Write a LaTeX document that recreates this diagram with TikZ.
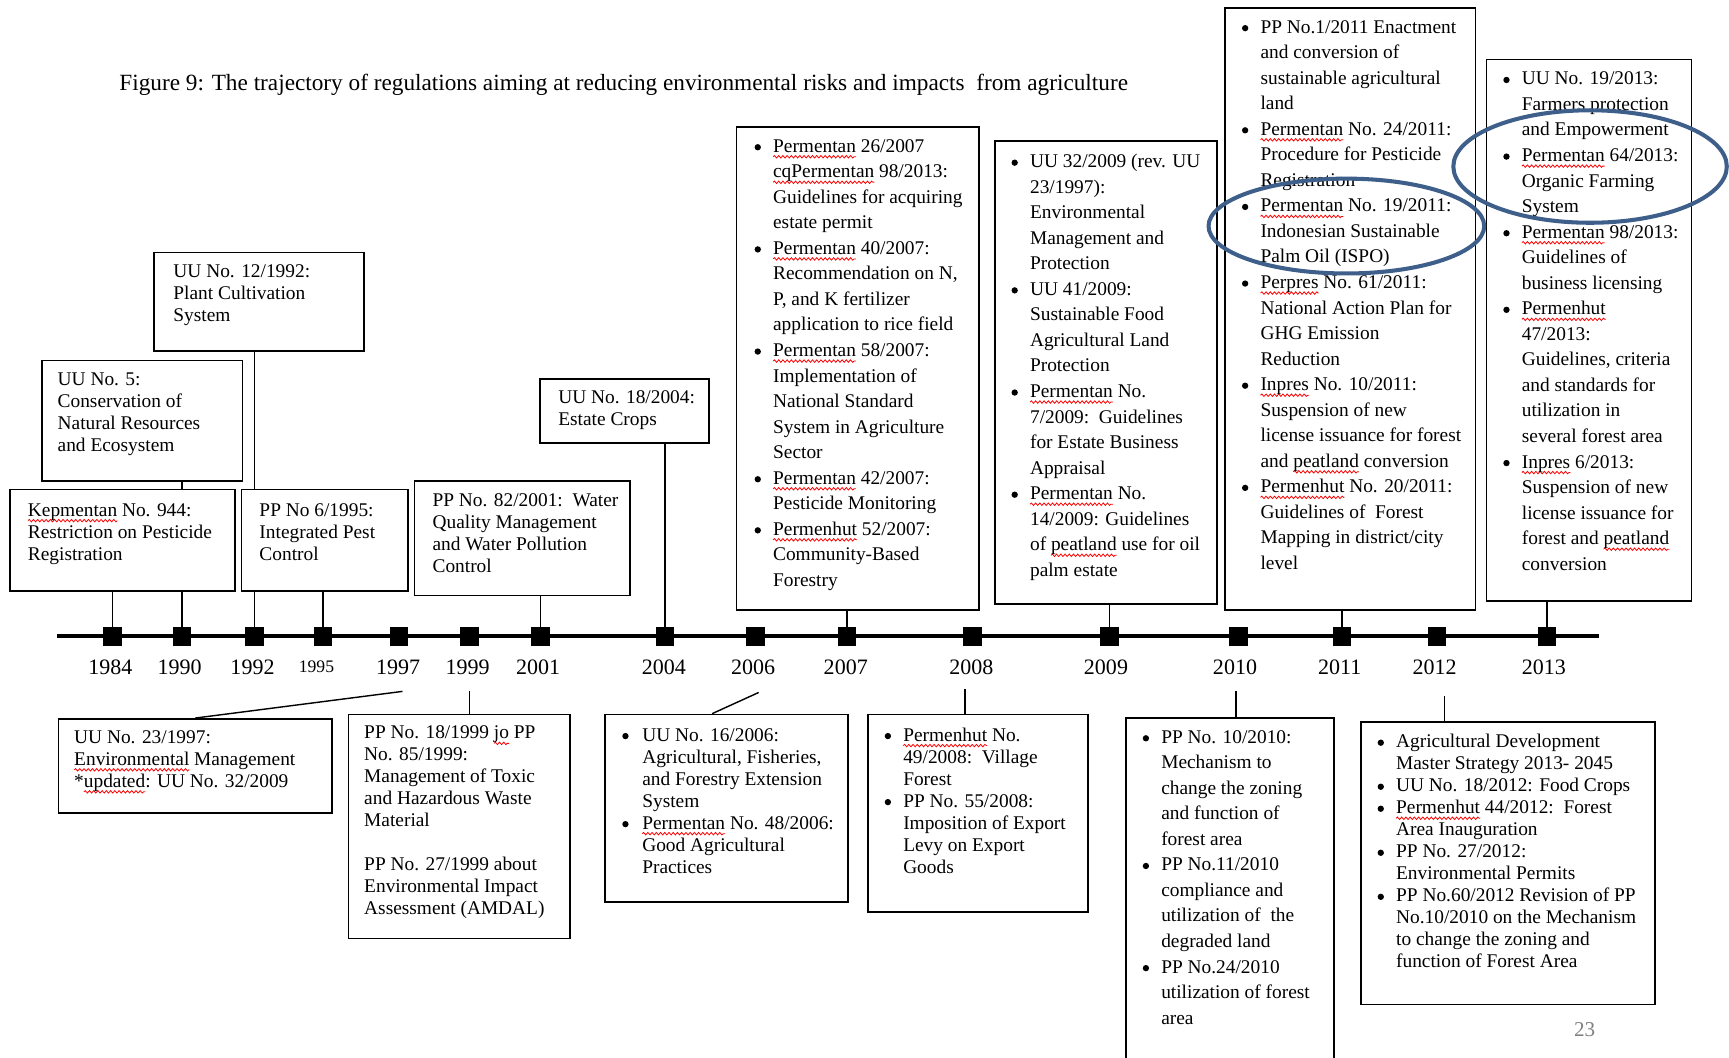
\documentclass[tikz,border=0pt]{standalone}
\usepackage{fontspec}
\setmainfont{Liberation Serif}
\usetikzlibrary{fit,backgrounds,decorations.pathmorphing}
\definecolor{ovalblue}{HTML}{3E5F8A}
% red spell-check wave under a word, and list bullet
\newsavebox\sqbox
\newlength\sqwd
\newcommand\sq[1]{\sbox\sqbox{#1}\setlength\sqwd{\wd\sqbox}\rlap{\tikz[overlay,baseline=0pt]\draw[red, line width=0.45pt, decorate, decoration={snake, amplitude=0.7pt, segment length=2.4pt}] (0pt,-2.6pt) -- (\sqwd,-2.6pt);}\usebox\sqbox}
\newcommand\bul{\tikz[baseline=0pt]\fill (1.8pt,2.8pt) circle (1.8pt);}

\begin{document}
\begin{tikzpicture}[x=0.022cm, y=-0.022cm,
	regbox/.style={draw, line width=1pt, fill=white, inner sep=0pt},
	regtxt/.style={anchor=base west, inner sep=0pt, font=\fontsize{11}{12.5}\selectfont},
	listtxt/.style={regtxt, font=\fontsize{11}{14.5}\selectfont},
	yearmark/.style={fill=black, minimum size=0.37cm, inner sep=0pt},
	link/.style={line width=0.8pt},
	oval/.style={draw=ovalblue, line width=2.3pt}]
	\useasboundingbox (0,0) rectangle (1568,959);
	
	% 1. title
	\node[anchor=west, inner sep=0pt, font=\fontsize{13.2}{15}\selectfont] (title) at (108,77) {Figure 9: The trajectory of regulations aiming at reducing environmental risks and impacts\ \ from agriculture};
	
	% 2. time line and years
	\coordinate (tl-start) at (52,577);
	\coordinate (tl-end) at (1450,577);
	\draw[line width=2pt] (tl-start) -- (tl-end);
	\foreach \yr/\xx/\lx/\fs in {1984/102/100/12.5, 1990/165/163/12.5, 1992/231/229/12.5, 1995/293/287/10,
		1997/362/361/12.5, 1999/426/424/12.5, 2001/490/488/12.5, 2004/603/602/12.5, 2006/685/683/12.5,
		2007/768/767/12.5, 2008/882/881/12.5, 2009/1006/1003/12.5, 2010/1123/1120/12.5, 2011/1217/1215/12.5,
		2012/1303/1301/12.5, 2013/1403/1400/12.5}{
		\node[yearmark] (m\yr) at (\xx,577) {};
		\node[font=\fontsize{\fs}{14}\selectfont, inner sep=0pt] (y\yr) at (\lx,605) {\yr};
	}
	
	% 3. boxes above the line
	\node[regbox, fit={(140,229) (330,318)}] (uu12) {};
	\node[regtxt] (uu12-t) at (157,252) {\begin{tabular}[t]{@{}l@{}}UU No. 12/1992:\\ Plant Cultivation\\ System\end{tabular}};
	
	\node[regbox, fit={(38,327) (220,436)}] (uu5) {};
	\node[regtxt] (uu5-t) at (52,350) {\begin{tabular}[t]{@{}l@{}}UU No. 5:\\ Conservation of\\ Natural Resources\\ and Ecosystem\end{tabular}};
	
	\node[regbox, fit={(9,444) (213,536)}] (kep) {};
	\node[regtxt] (kep-t) at (25,468) {\begin{tabular}[t]{@{}l@{}}\sq{Kepmentan} No. 944:\\ Restriction on Pesticide\\ Registration\end{tabular}};
	
	\node[regbox, fit={(219,444) (370,536)}] (pp6) {};
	\node[regtxt] (pp6-t) at (235,468) {\begin{tabular}[t]{@{}l@{}}PP No 6/1995:\\ Integrated Pest\\ Control\end{tabular}};
	
	\node[regbox, fit={(376,436) (571,540)}] (pp82) {};
	\node[regtxt] (pp82-t) at (392,459) {\begin{tabular}[t]{@{}l@{}}PP No. 82/2001:\ \ Water\\ Quality Management\\ and Water Pollution\\ Control\end{tabular}};
	
	\node[regbox, fit={(490,344) (643,402)}] (uu18) {};
	\node[regtxt] (uu18-t) at (506,366) {\begin{tabular}[t]{@{}l@{}}UU No. 18/2004:\\ Estate Crops\end{tabular}};
	
	\node[regbox, fit={(668,115) (888,553)}] (b2007) {};
	\node[listtxt] (b2007-t) at (684,138) {\begin{tabular}[t]{@{}p{0.37cm}@{}l@{}}
		\bul & \sq{Permentan} 26/2007\\
		& \sq{cqPermentan} 98/2013:\\
		& Guidelines for acquiring\\
		& estate permit\\
		\bul & \sq{Permentan} 40/2007:\\
		& Recommendation on N,\\
		& P, and K fertilizer\\
		& application to rice field\\
		\bul & \sq{Permentan} 58/2007:\\
		& Implementation of\\
		& National Standard\\
		& System in Agriculture\\
		& Sector\\
		\bul & \sq{Permentan} 42/2007:\\
		& Pesticide Monitoring\\
		\bul & \sq{Permenhut} 52/2007:\\
		& Community-Based\\
		& Forestry
	\end{tabular}};
	
	\node[regbox, fit={(902,128) (1104,548)}] (b2009) {};
	\node[listtxt] (b2009-t) at (917,152) {\begin{tabular}[t]{@{}p{0.37cm}@{}l@{}}
		\bul & UU 32/2009 (rev. UU\\
		& 23/1997):\\
		& Environmental\\
		& Management and\\
		& Protection\\
		\bul & UU 41/2009:\\
		& Sustainable Food\\
		& Agricultural Land\\
		& Protection\\
		\bul & \sq{Permentan} No.\\
		& 7/2009:\ \ Guidelines\\
		& for Estate Business\\
		& Appraisal\\
		\bul & \sq{Permentan} No.\\
		& 14/2009: Guidelines\\
		& of \sq{peatland} use for oil\\
		& palm estate
	\end{tabular}};
	
	\node[regbox, fit={(1111,7) (1338,553)}] (b2011) {};
	\node[listtxt] (b2011-t) at (1126,30) {\begin{tabular}[t]{@{}p{0.37cm}@{}l@{}}
		\bul & PP No.1/2011 Enactment\\
		& and conversion of\\
		& sustainable agricultural\\
		& land\\
		\bul & \sq{Permentan} No. 24/2011:\\
		& Procedure for Pesticide\\
		& Registration\\
		\bul & \sq{Permentan} No. 19/2011:\\
		& Indonesian Sustainable\\
		& Palm Oil (ISPO)\\
		\bul & \sq{Perpres} No. 61/2011:\\
		& National Action Plan for\\
		& GHG Emission\\
		& Reduction\\
		\bul & \sq{Inpres} No. 10/2011:\\
		& Suspension of new\\
		& license issuance for forest\\
		& and \sq{peatland} conversion\\
		\bul & \sq{Permenhut} No. 20/2011:\\
		& Guidelines of\ \ Forest\\
		& Mapping in district/city\\
		& level
	\end{tabular}};
	
	\node[regbox, fit={(1348,54) (1534,545)}] (b2013) {};
	\node[listtxt] (b2013-t) at (1363,77) {\begin{tabular}[t]{@{}p{0.37cm}@{}l@{}}
		\bul & UU No. 19/2013:\\
		& Farmers protection\\
		& and Empowerment\\
		\bul & \sq{Permentan} 64/2013:\\
		& Organic Farming\\
		& System\\
		\bul & \sq{Permentan} 98/2013:\\
		& Guidelines of\\
		& business licensing\\
		\bul & \sq{Permenhut}\\
		& 47/2013:\\
		& Guidelines, criteria\\
		& and standards for\\
		& utilization in\\
		& several forest area\\
		\bul & \sq{Inpres} 6/2013:\\
		& Suspension of new\\
		& license issuance for\\
		& forest and \sq{peatland}\\
		& conversion
	\end{tabular}};
	
	% 4. boxes below the line
	\node[regbox, fit={(53,652) (301,737)}] (uu23) {};
	\node[regtxt] (uu23-t) at (67,674) {\begin{tabular}[t]{@{}l@{}}UU No. 23/1997:\\ \sq{Environmental} Management\\ {*}\sq{updated}: UU No. 32/2009\end{tabular}};
	
	\node[regbox, fit={(316,648) (517,851)}] (pp18) {};
	\node[regtxt] (pp18-t) at (330,670) {\begin{tabular}[t]{@{}l@{}}PP No. 18/1999 \sq{jo} PP\\ No. 85/1999:\\ Management of Toxic\\ and Hazardous Waste\\ Material\\[12.5pt] PP No. 27/1999 about\\ Environmental Impact\\ Assessment (AMDAL)\end{tabular}};
	
	\node[regbox, fit={(549,648) (769,818)}] (b2006) {};
	\node[regtxt] (b2006-t) at (564,672) {\begin{tabular}[t]{@{}p{0.4cm}@{}l@{}}
		\bul & UU No. 16/2006:\\
		& Agricultural, Fisheries,\\
		& and Forestry Extension\\
		& System\\
		\bul & \sq{Permentan} No. 48/2006:\\
		& Good Agricultural\\
		& Practices
	\end{tabular}};
	
	\node[regbox, fit={(787,648) (987,827)}] (b2008) {};
	\node[regtxt] (b2008-t) at (802,672) {\begin{tabular}[t]{@{}p{0.37cm}@{}l@{}}
		\bul & \sq{Permenhut} No.\\
		& 49/2008:\ \ Village\\
		& Forest\\
		\bul & PP No. 55/2008:\\
		& Imposition of Export\\
		& Levy on Export\\
		& Goods
	\end{tabular}};
	
	\node[regbox, fit={(1021,651) (1210,962)}] (b2010) {};
	\node[listtxt] (b2010-t) at (1036,674) {\begin{tabular}[t]{@{}p{0.37cm}@{}l@{}}
		\bul & PP No. 10/2010:\\
		& Mechanism to\\
		& change the zoning\\
		& and function of\\
		& forest area\\
		\bul & PP No.11/2010\\
		& compliance and\\
		& utilization of\ \ the\\
		& degraded land\\
		\bul & PP No.24/2010\\
		& utilization of forest\\
		& area
	\end{tabular}};
	
	\node[regbox, fit={(1234,655) (1501,911)}] (b2012) {};
	\node[regtxt] (b2012-t) at (1249,678) {\begin{tabular}[t]{@{}p{0.37cm}@{}l@{}}
		\bul & Agricultural Development\\
		& Master Strategy 2013- 2045\\
		\bul & UU No. 18/2012: Food Crops\\
		\bul & \sq{Permenhut} 44/2012:\ \ Forest\\
		& Area Inauguration\\
		\bul & PP No. 27/2012:\\
		& Environmental Permits\\
		\bul & PP No.60/2012 Revision of PP\\
		& No.10/2010 on the Mechanism\\
		& to change the zoning and\\
		& function of Forest Area
	\end{tabular}};
	
	\node[text=gray, font=\fontsize{12}{14}\selectfont] (pgno) at (1437,934) {23};
	
	% 5. connectors
	\coordinate (s1997) at (365,627);
	\coordinate (s1999) at (426,627);
	\coordinate (s2006) at (688,628);
	\coordinate (s2008) at (875,625);
	\coordinate (s2010) at (1121,627);
	\coordinate (s2012) at (1310,631);
	\begin{pgfonlayer}{background}
		\draw[link] (m1984) -- (m1984 |- kep.south);
		\draw[link] (m1990) -- (m1990 |- uu5.south);
		\draw[link] (m1992) -- (m1992 |- uu12.south);
		\draw[link] (m1995) -- (m1995 |- pp6.south);
		\draw[link] (m2001) -- (m2001 |- pp82.south);
		\draw[link] (m2004) -- (m2004 |- uu18.south);
		\draw[link] (m2007) -- (m2007 |- b2007.south);
		\draw[link] (m2009) -- (m2009 |- b2009.south);
		\draw[link] (m2011) -- (m2011 |- b2011.south);
		\draw[link] (m2013) -- (m2013 |- b2013.south);
		\draw[link] (s1997) -- (uu23.north);
		\draw[link] (s1999) -- (s1999 |- pp18.north);
		\draw[link] (s2006) -- ([xshift=-0.29cm]b2006.north);
		\draw[link] (s2008) -- (s2008 |- b2008.north);
		\draw[link] (s2010) -- (s2010 |- b2010.north);
		\draw[link] (s2012) -- (s2012 |- b2012.north);
	\end{pgfonlayer}
	
	% 6. highlighted regulations
	\draw[oval] (1221,205) ellipse [x radius=125, y radius=43];
	\draw[oval] (1442,151) ellipse [x radius=124, y radius=51];
\end{tikzpicture}
\end{document}
